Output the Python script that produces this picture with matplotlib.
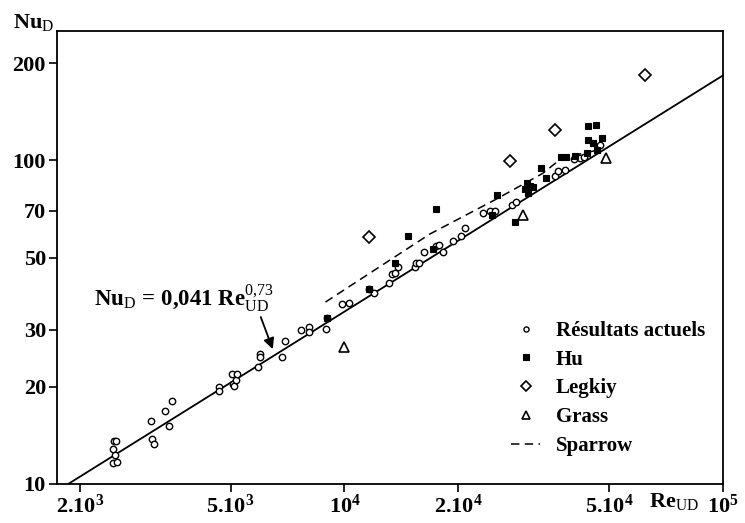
import numpy as np
import matplotlib
matplotlib.use('Agg')
import matplotlib.pyplot as plt
from matplotlib.ticker import FixedLocator, FixedFormatter, NullLocator

plt.rcParams['font.family'] = ['Liberation Serif', 'DejaVu Serif']
plt.rcParams['mathtext.fontset'] = 'custom'
plt.rcParams['mathtext.rm'] = 'Liberation Serif'
plt.rcParams['mathtext.it'] = 'Liberation Serif:italic'
plt.rcParams['mathtext.bf'] = 'Liberation Serif:bold'

#%% donnees
# Resultats actuels (cercles)
re_act = [2460, 2490, 2450, 2470, 2450, 2510, 3090, 3100, 3130, 3360,
          3440, 3510, 4660, 4660, 5060, 5080, 5110, 5170, 5190, 5900,
          6000, 6000, 6830, 6950, 7660, 8050, 8080, 8910, 8980, 9860,
          10310, 11590, 12000, 13080, 13350, 13620, 13810, 15380, 15470, 15780,
          16270, 17470, 17820, 18180, 19320, 20320, 20820, 23260, 24230, 24970,
          27630, 28350, 35930, 36650, 38150, 40300, 41800, 42890, 47180]
nu_act = [13.6, 13.6, 12.8, 12.3, 11.65, 11.7, 15.6, 13.8, 13.3, 16.8,
          15.1, 18.0, 20.0, 19.35, 21.9, 20.4, 20.1, 20.9, 21.8, 23.0,
          25.3, 24.7, 24.7, 27.7, 29.9, 30.6, 29.4, 30.2, 32.5, 36.0,
          36.3, 40.0, 39.0, 41.7, 44.5, 44.8, 47.0, 47.0, 48.3, 48.3,
          52.1, 54.5, 54.8, 52.3, 56.4, 58.2, 61.8, 68.8, 69.6, 69.6,
          73.0, 74.4, 89.4, 92.6, 93.1, 100.7, 102.0, 102.4, 111.4]

# Hu (carres pleins)
re_hu = [8980, 11590, 13620, 14760, 17430, 17180, 24470, 25220, 28180, 30260,
         30870, 29950, 30550, 31500, 33140, 34160, 37400, 38550, 40550, 43940,
         46050, 43940, 45290, 47900, 46330, 43790]
nu_hu = [32.5, 40.0, 48.3, 58.6, 70.8, 53.2, 67.6, 78.4, 64.5, 85.2,
         83.2, 81.8, 79.4, 82.8, 94.9, 88.4, 102.4, 102.4, 103.1, 127.8,
         128.9, 115.3, 113.5, 117.5, 107.8, 105.1]

# Legkiy (losanges)
re_leg = [11590, 27350, 35930, 62330]
nu_leg = [57.9, 99.6, 124.0, 183.6]

# Grass (triangles)
re_gra = [10000, 29680, 49220]
nu_gra = [26.6, 67.8, 101.8]

# Sparrow (tirets)
re_spa = [8910, 16840, 25270, 33400, 37700, 42560, 46330]
nu_spa = [36.5, 59.3, 76.1, 91.2, 102.2, 105.1, 107.4]

# correlation Nu = C Re^n
coef_c = 0.041
expo_n = 0.73

x_ticks = [2e3, 5e3, 1e4, 2e4, 5e4, 1e5]
x_labels = [r'$\mathbf{2.10^{3}}$', r'$\mathbf{5.10^{3}}$', r'$\mathbf{10^{4}}$',
            r'$\mathbf{2.10^{4}}$', r'$\mathbf{5.10^{4}}$', r'$\mathbf{10^{5}}$']
y_ticks = [10, 20, 30, 50, 70, 100, 200]
y_labels = ['10', '20', '30', '50', '70', '100', '200']

#%%
fig = plt.figure(figsize=(7.45, 5.23), dpi=100)
ax = fig.add_axes([0.0765, 0.0746, 0.894, 0.867])
ax.set_xscale('log')
ax.set_yscale('log')
ax.set_xlim(1740, 1e5)
ax.set_ylim(10, 252)

re_fit = np.logspace(np.log10(1740), 5, 200)
ax.plot(re_fit, coef_c * re_fit**expo_n, color='k', lw=1.3)

ax.plot(re_act, nu_act, 'o', ls='none', ms=4.6, mfc='white', mec='k',
        mew=1.0, label='Résultats actuels')
ax.plot(re_hu, nu_hu, 's', ls='none', ms=5, mfc='k', mec='k',
        mew=0.8, label='Hu')
ax.plot(re_leg, nu_leg, 'D', ls='none', ms=6, mfc='white', mec='k',
        mew=1.2, label='Legkiy')
ax.plot(re_gra, nu_gra, '^', ls='none', ms=6.5, mfc='white', mec='k',
        mew=1.2, label='Grass')
ax.plot(re_spa, nu_spa, color='k', ls=(0, (5.5, 3.5)), lw=1.1, label='Sparrow')

ax.xaxis.set_major_locator(FixedLocator(x_ticks))
ax.xaxis.set_major_formatter(FixedFormatter(x_labels))
ax.xaxis.set_minor_locator(NullLocator())
ax.yaxis.set_major_locator(FixedLocator(y_ticks))
ax.yaxis.set_major_formatter(FixedFormatter(y_labels))
ax.yaxis.set_minor_locator(NullLocator())
ax.tick_params(axis='both', direction='out', length=6, width=1.2,
               labelsize=16, pad=2)
for lab in ax.get_yticklabels():
    lab.set_fontweight('bold')
for sp in ax.spines.values():
    sp.set_linewidth(1.3)

# titres des axes
fig.text(13/745, 1 - 28/523, r'$\mathbf{Nu}_\mathrm{D}$', fontsize=16,
         ha='left', va='baseline')
fig.text(649/745, 1 - 507/523, r'$\mathbf{Re}_\mathrm{UD}$', fontsize=16,
         ha='left', va='baseline')

# equation et fleche
ax.text(2185, 35.6, r'$\mathbf{Nu}_\mathrm{D}\mathbf{\,=\,0{,}041\ Re}_\mathrm{UD}^\mathrm{0{,}73}$',
        fontsize=16.5, ha='left', va='baseline')
ax.annotate('', xy=(6465, 26.1), xytext=(6010, 32.8),
            arrowprops=dict(arrowstyle='-|>', color='k', lw=1.3,
                            mutation_scale=16, shrinkA=0, shrinkB=0))

leg = ax.legend(loc='upper left', bbox_to_anchor=(511/745, 1 - 321/523),
                bbox_transform=fig.transFigure, frameon=False, numpoints=1,
                prop={'size': 15, 'weight': 'bold'}, handlelength=1.4,
                handletextpad=0.75, labelspacing=0.42, borderpad=0,
                borderaxespad=0, markerscale=0.8)

fig.savefig('out.png', dpi=100)
